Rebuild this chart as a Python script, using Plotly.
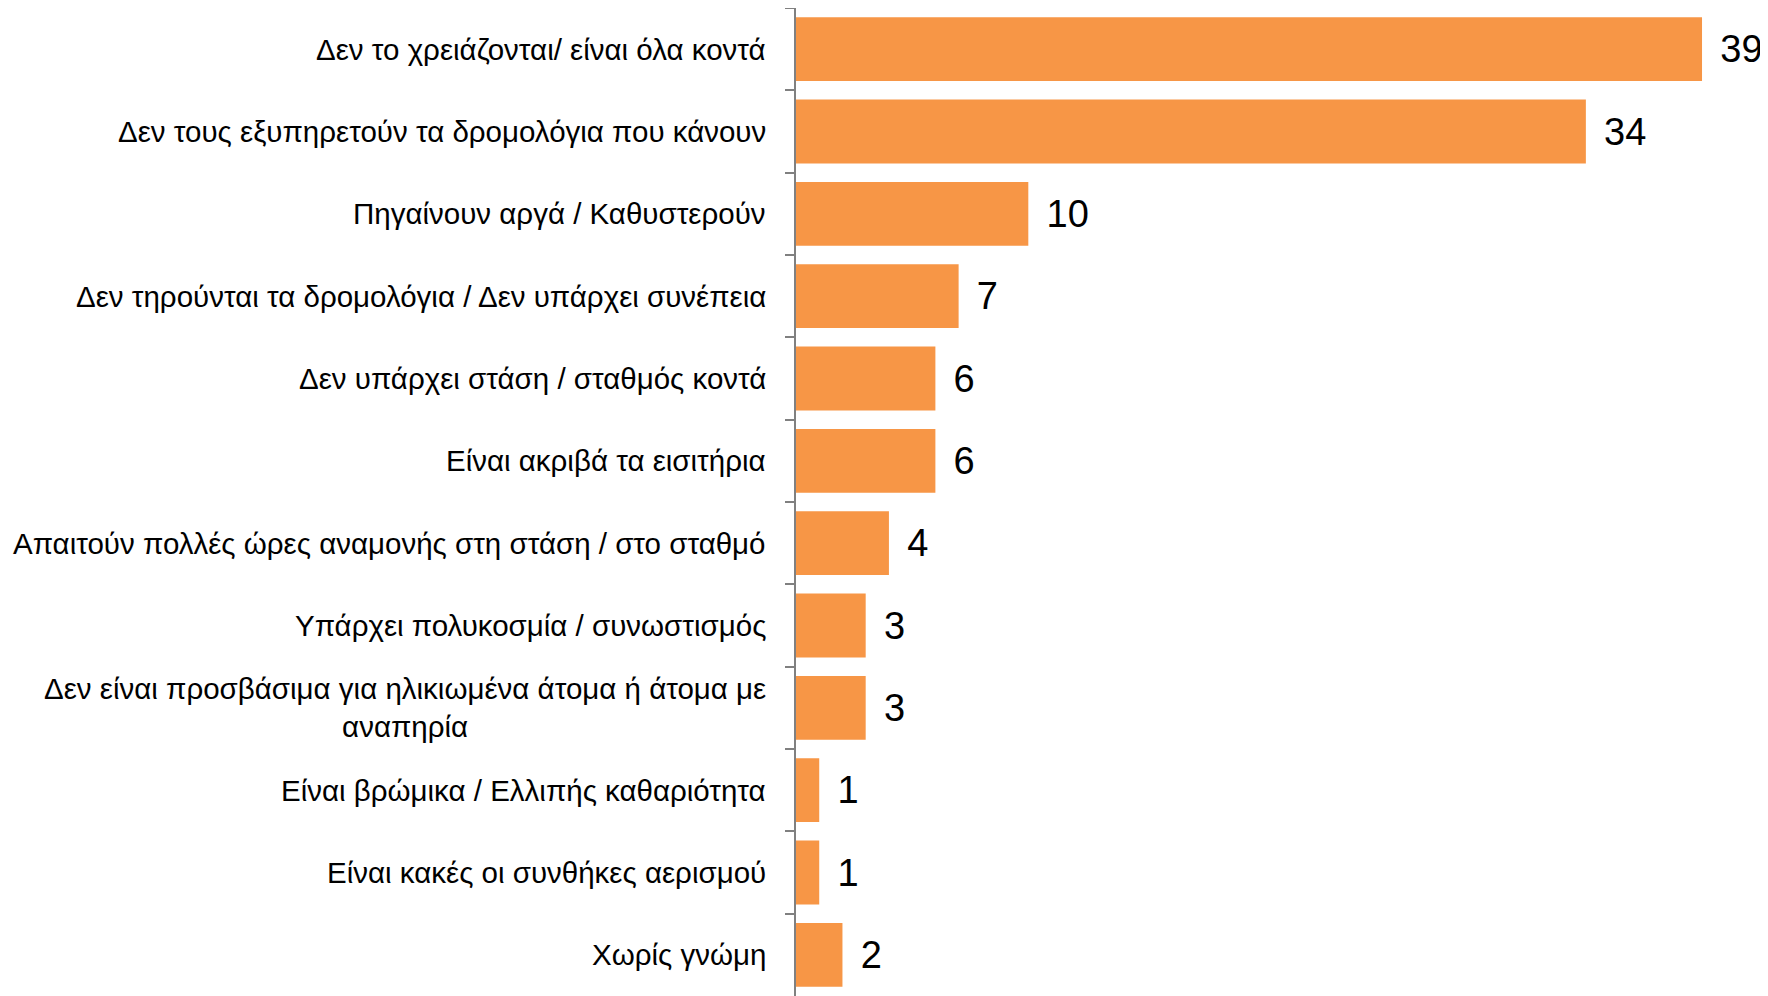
import plotly.graph_objects as go

# Reasons for not using public transport (%)
categories = [
    "Δεν το χρειάζονται/ είναι όλα κοντά",
    "Δεν τους εξυπηρετούν τα δρομολόγια που κάνουν",
    "Πηγαίνουν αργά / Καθυστερούν",
    "Δεν τηρούνται τα δρομολόγια / Δεν υπάρχει συνέπεια",
    "Δεν υπάρχει στάση / σταθμός κοντά",
    "Είναι ακριβά τα εισιτήρια",
    "Απαιτούν πολλές ώρες αναμονής στη στάση / στο σταθμό",
    "Υπάρχει πολυκοσμία / συνωστισμός",
    "Δεν είναι προσβάσιμα για ηλικιωμένα άτομα ή άτομα με<br>αναπηρία",
    "Είναι βρώμικα / Ελλιπής καθαριότητα",
    "Είναι κακές οι συνθήκες αερισμού",
    "Χωρίς γνώμη",
]
values = [39, 34, 10, 7, 6, 6, 4, 3, 3, 1, 1, 2]

bar_color = "#F79646"
label_font = "Liberation Sans Narrow, Arial Narrow, Liberation Sans, sans-serif"

fig = go.Figure()
fig.add_trace(go.Bar(
    x=values,
    y=categories,
    orientation="h",
    marker=dict(color=bar_color, line=dict(width=0)),
    width=0.775,
    text=["\u2009\u2009" + str(v) for v in values],
    textposition="outside",
    textfont=dict(family=label_font, size=38, color="#000000"),
    cliponaxis=False,
))

# category labels as annotations so the wrapped one can be centred
for cat in categories:
    fig.add_annotation(
        x=0, xref="paper", y=cat, yref="y",
        text=cat, showarrow=False,
        xanchor="right", xshift=-28, align="center",
        font=dict(family=label_font, size=29.5, color="#000000"),
    )

# the page body has an 8px margin, so the figure is sized to fit the window
fig.update_layout(
    width=1760, height=988,
    margin=dict(l=788, r=0, t=0, b=0, autoexpand=False),
    paper_bgcolor="white", plot_bgcolor="white",
    showlegend=False,
    bargap=0.225,
)
fig.update_xaxes(range=[0, 41.84], visible=False, automargin=False)
fig.update_yaxes(
    autorange="reversed",
    automargin=False,
    showticklabels=False,
    showline=True, linecolor="#808080", linewidth=2,
    ticks="outside", tickson="boundaries", ticklen=9,
    tickcolor="#808080", tickwidth=2,
    showgrid=False, zeroline=False,
)

fig.write_html("out.html")
